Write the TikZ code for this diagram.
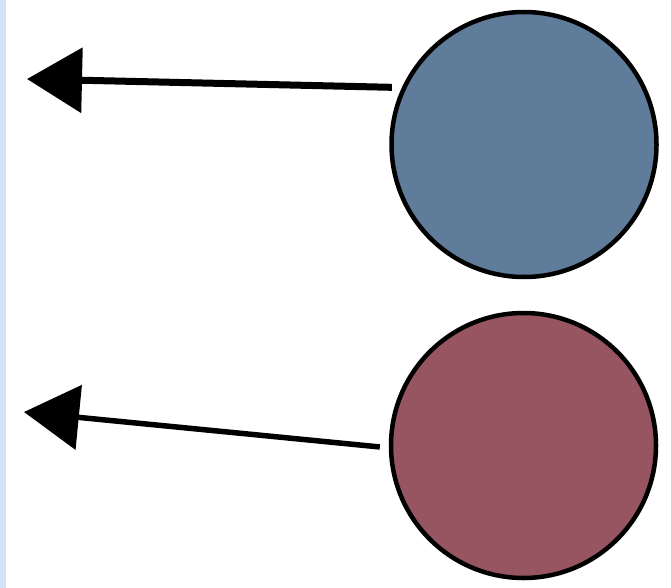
\documentclass[tikz,border=0pt]{standalone}
\usepackage{tikz}
\usetikzlibrary{arrows.meta,positioning}
\definecolor{stripblue}{RGB}{211,226,251}
\definecolor{discblue}{RGB}{96,124,155}
\definecolor{discred}{RGB}{150,85,96}
\tikzset{
    disc/.style={circle,draw,line width=4.5pt,minimum size=265pt,inner sep=0pt},
    sketch/.style={-{Triangle[length=55pt,width=64pt]},line width=7pt}
}
\begin{document}
\begin{tikzpicture}[x=1pt,y=-1pt]
    \useasboundingbox (0,0) rectangle (671,588);
    \fill[stripblue] (0,0) rectangle (6,588);
    \node[disc,fill=discblue] (blue) at (524,144.5) {};
    \node[disc,fill=discred] (red) at (523.5,445.5) {};
    \coordinate (bluetip) at (27,79);
    \coordinate (redtip) at (24,412);
    \draw[sketch,shorten <=10pt] (blue.155) -- (bluetip);
    \draw[sketch,line width=5.5pt,shorten <=9pt] (red.181) -- (redtip);
\end{tikzpicture}
\end{document}
